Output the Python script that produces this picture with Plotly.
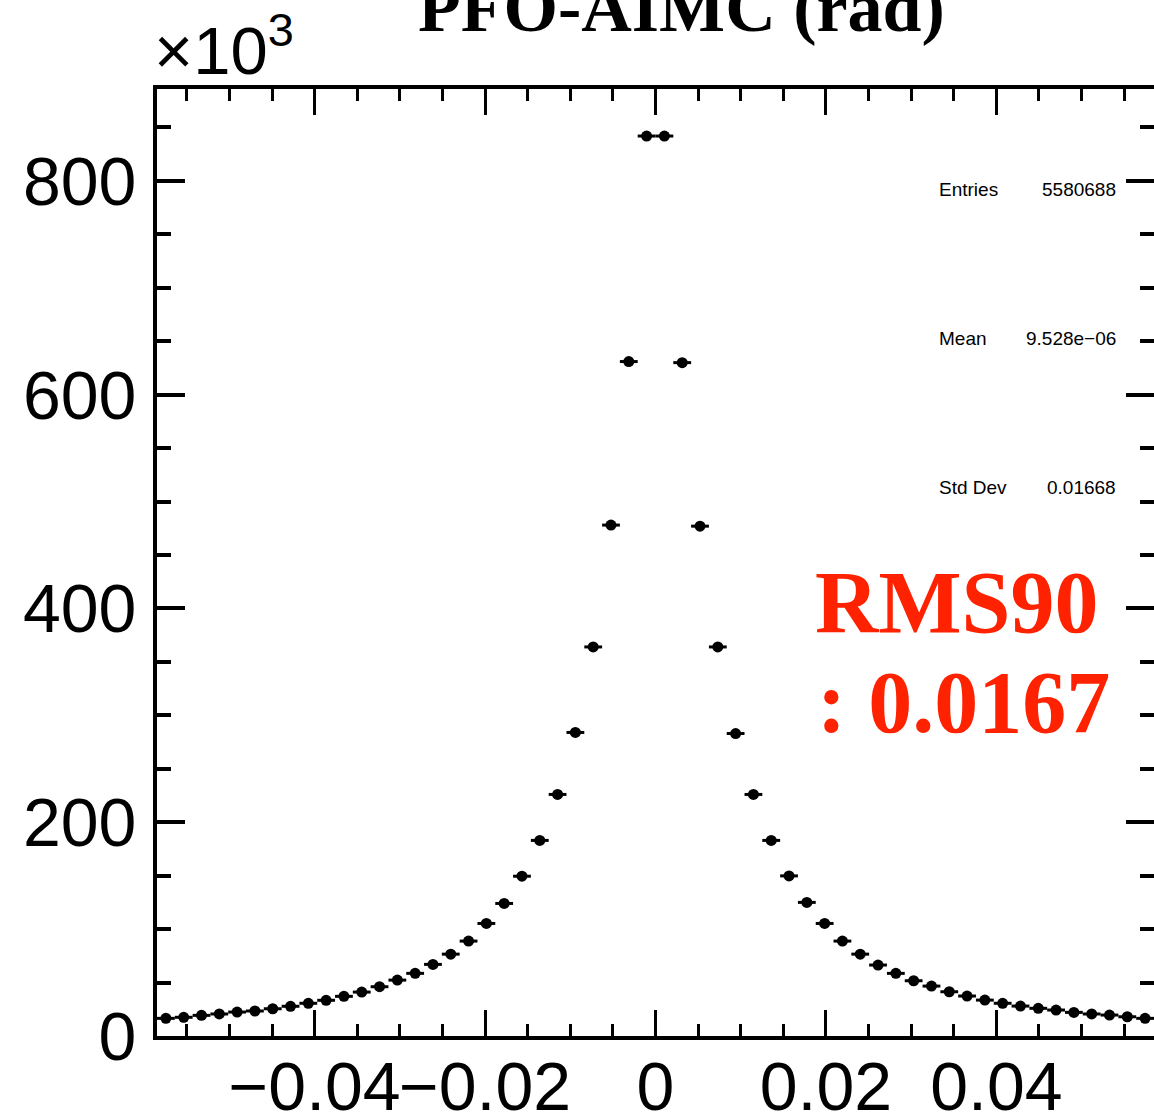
import plotly.graph_objects as go

# ---------------- data ----------------
x_min, x_max = -0.0585, 0.0585
n_bins = 56
# bin contents in units of 10^3 entries, left to right
counts_k = [
    16.5, 17.5, 19.3, 20.6, 22.4, 23.4, 25.5, 27.8, 30.6, 33.4,
    37.1, 41.1, 46.1, 52.3, 58.6, 67.0, 76.6, 88.8, 105.3, 124.0,
    149.5, 183, 226, 284, 364, 478, 631, 842,
    842, 630, 477, 364, 283, 226, 183, 149.8, 125.0, 105.3,
    88.8, 76.6, 66.4, 58.6, 51.7, 46.7, 41.4, 37.4, 33.6, 30.6,
    28.0, 25.9, 24.3, 22.1, 20.6, 19.6, 18.0, 16.5,
]
x_tick_vals = [-0.04, -0.02, 0, 0.02, 0.04]
y_tick_vals = [0, 200, 400, 600, 800]
y_max = 886
stats_labels = ["Entries", "Mean", "Std Dev"]
stats_values = ["5580688", "9.528e\u221206", "0.01668"]
title_text = "PFO-AIMC (rad)"
rms_lines = ["RMS90", ": 0.0167"]

# ---------------- geometry ----------------
W, H = 1154, 1119
L, R, T, B = 157, 0, 89, 83
PW, PH = W - L - R, H - T - B


def px(xp):
    return (xp - L) / PW


def py(yp):
    return (H - B - yp) / PH


bw = (x_max - x_min) / n_bins
centers = [x_min + (i + 0.5) * bw for i in range(n_bins)]

sans = "Liberation Sans, Arial, Helvetica, sans-serif"
serif = "Liberation Serif, Times New Roman, serif"

fig = go.Figure()
fig.add_trace(go.Scatter(
    x=centers, y=counts_k, mode="markers",
    marker=dict(color="black", size=11, line=dict(width=0)),
    error_x=dict(type="constant", value=bw / 2, thickness=3, width=0, color="black"),
    showlegend=False, hoverinfo="skip",
))

fig.update_layout(
    width=W, height=H,
    margin=dict(l=L, r=R, t=T, b=B, pad=0, autoexpand=False),
    paper_bgcolor="white", plot_bgcolor="white",
    showlegend=False,
)

fig.update_xaxes(
    range=[x_min, x_max], showgrid=False, zeroline=False, automargin=False,
    showline=True, linewidth=4, linecolor="black", mirror="ticks",
    ticks="inside", ticklen=26, tickwidth=3, tickcolor="black",
    tickvals=x_tick_vals, tickangle=0,
    tickfont=dict(family=sans, size=68, color="black"),
    ticklabelstandoff=-12,
    minor=dict(dtick=0.005, tick0=0, ticks="inside", ticklen=12, tickwidth=3, tickcolor="black"),
)
fig.update_yaxes(
    range=[0, y_max], showgrid=False, zeroline=False, automargin=False,
    showline=True, linewidth=4, linecolor="black", mirror="ticks",
    ticks="inside", ticklen=28, tickwidth=4, tickcolor="black",
    tickvals=y_tick_vals,
    tickfont=dict(family=sans, size=68, color="black"),
    ticklabelstandoff=3,
    minor=dict(dtick=50, tick0=0, ticks="inside", ticklen=14, tickwidth=4, tickcolor="black"),
)

ann = []
# title (cut off at top as in reference)
ann.append(dict(text="<b>" + title_text + "</b>", xref="paper", yref="paper",
                x=px(681), y=py(7), xanchor="center", yanchor="middle",
                showarrow=False, font=dict(family=serif, size=70, color="black")))
# exponent label
ann.append(dict(text="\u00d710<sup>3</sup>", xref="paper", yref="paper",
                x=px(152), y=py(46), xanchor="left", yanchor="middle",
                showarrow=False, font=dict(family=sans, size=67, color="black")))
# stats box text
for lab, val, yc in zip(stats_labels, stats_values, [189, 338, 488]):
    ann.append(dict(text=lab, xref="paper", yref="paper", x=px(937), y=py(yc),
                    xanchor="left", yanchor="middle", showarrow=False,
                    font=dict(family=sans, size=19, color="black")))
    ann.append(dict(text=val, xref="paper", yref="paper", x=px(1118), y=py(yc),
                    xanchor="right", yanchor="middle", showarrow=False,
                    font=dict(family=sans, size=19, color="black")))
# RMS90 text
for line, yc, xl in zip(rms_lines, [602, 702], [813, 815]):
    ann.append(dict(text="<b>" + line + "</b>", xref="paper", yref="paper",
                    x=px(xl), y=py(yc), xanchor="left", yanchor="middle",
                    showarrow=False, font=dict(family=serif, size=88, color="#ff2200")))

fig.update_layout(annotations=ann)

fig.write_html(
    "out.html",
    config={"displayModeBar": False},
    post_script="document.body.style.margin='0px';document.body.style.overflow='hidden';",
)
